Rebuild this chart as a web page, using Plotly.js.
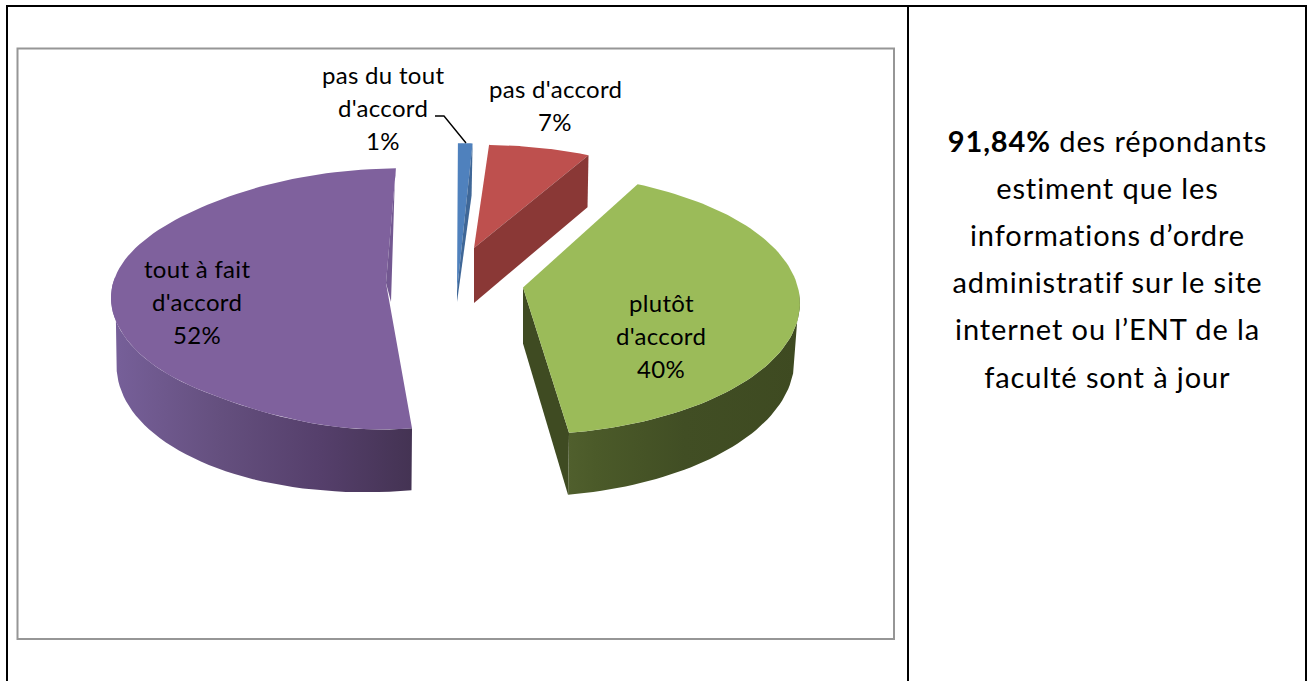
<!DOCTYPE html>
<html><head><meta charset="utf-8"><script src="https://cdn.plot.ly/plotly-3.0.1.min.js"></script>
<style>html,body{margin:0;padding:0;background:#fff;overflow:hidden}#c{width:1311px;height:681px}
.annotation-text{letter-spacing:.3px;font-variant-ligatures:none}</style></head>
<body><div id="c"></div>
<script>
const categories = ["pas du tout d'accord", "pas d'accord", "plutôt d'accord", "tout à fait d'accord"];
const percents = [1, 7, 40, 52];
const faceColors = ["#4F81BD", "#BE504E", "#9BBB59", "#7F619D"];
const edgeColors = ["#3F6797", "#8A3836", "#3F4B22", "#735891"];
const labelLines = [["pas du tout", "d'accord", "1%"], ["pas d'accord", "7%"], ["plutôt", "d'accord", "40%"], ["tout à fait", "d'accord", "52%"]];
const labelPos = [[383, 74], [555, 88], [661, 302], [197, 268]];
const sideLines = ["<b>91,84%</b> des répondants", "estiment que les", "informations d’ordre", "administratif sur le site", "internet ou l’ENT de la", "faculté sont à jour"];

// explosion placement of each slice (projected 3D pie)
const place = [
  {cx: 457, cy: 291, rx: 275, ry: 166, ox: -60, apexDepth: 11, rimEdge: 52, sag: 0},
  {cx: 474, cy: 248, rx: 263, ry: 116, ox: -59, apexDepth: 55, rimEdge: 52, sag: 0},
  {cx: 523, cy: 287.5, rx: 275, ry: 129, ox: -10, apexDepth: 56, rimEdge: 62, sag: 0},
  {cx: 386, cy: 283, rx: 270, ry: 129, ox: -147, apexDepth: 19, rimEdge: 8, sag: 12}
];
const P = 0.124, START = -1.5, STEPS = 90;
const rad = d => d * Math.PI / 180;
const smooth = (a, b, t) => { const u = Math.min(1, Math.max(0, (t - a) / (b - a))); return u * u * (3 - 2 * u); };
function base(s, th) {
  const w = 1 + P * Math.cos(rad(th));
  return [s.cx + (s.rx * Math.sin(rad(th)) + s.ox) / w - s.ox, s.cy - s.ry * Math.cos(rad(th)) / w];
}
function upper(s, th) {
  const t = base(s, th), k = smooth(172, 215, th) * (1 - smooth(240, 320, th));
  return [t[0], t[1] - s.sag * k];
}
function lower(s, th) {
  const t = base(s, th), d = 56 - 6 * Math.cos(rad(th));
  return [s.cx + (t[0] - s.cx) * 0.98, t[1] + d];
}
function poly(pts, color, name, grad) {
  const tr = {type: 'scatter', mode: 'lines', x: pts.map(p => p[0]), y: pts.map(p => p[1]), fill: 'toself',
    fillcolor: color, line: {width: 0, color: color}, hoverinfo: 'skip', showlegend: false, name: name};
  if (grad) { tr.fillgradient = {type: 'horizontal', colorscale: grad}; delete tr.fillcolor; }
  return tr;
}
function sweep(a, b) { const o = []; for (let i = 0; i <= STEPS; i++) o.push(a + (b - a) * i / STEPS); return o; }

const traces = [];
const wallGrad = [
  null, null,
  [[0, '#505F2D'], [0.12, '#4B5A29'], [0.5, '#414E24'], [1, '#3E4A21']],
  [[0, '#77609A'], [0.35, '#65507F'], [0.7, '#553F6B'], [1, '#443353']]
];
let cum = 0;
percents.forEach((v, i) => {
  const a = START + cum * 3.6, b = START + (cum + v) * 3.6; cum += v;
  const s = place[i], name = categories[i], arc = sweep(a, b);
  // outer rim wall: the top arc stops at the silhouette, the bottom arc a little before it
  if (wallGrad[i]) {
    const visTop = arc.filter(t => (i === 2 ? t >= 92 : t <= 270));
    const visLow = arc.filter(t => (i === 2 ? t >= 102 : t <= 258));
    const pts = visTop.map(t => upper(s, t)).concat(visLow.slice().reverse().map(t => lower(s, t)));
    traces.push(poly(pts, edgeColors[i], name, wallGrad[i]));
  }
  const radial = th => {
    const r = upper(s, th), l = [r[0] - 1, r[1] + s.rimEdge];
    return [[s.cx, s.cy], r, l, [s.cx + (i === 3 ? 5 : 0), s.cy + s.apexDepth]];
  };
  if (i === 2) traces.push(poly(radial(b), edgeColors[i], name));
  traces.push(poly([[s.cx, s.cy]].concat(arc.map(t => upper(s, t))), faceColors[i], name));
  if (i !== 2) traces.push(poly(radial(b), edgeColors[i], name));
});
// leader line of the smallest slice
traces.push({type: 'scatter', mode: 'lines', x: [435, 444, 466], y: [116, 116, 143], line: {color: '#000', width: 1.4}, hoverinfo: 'skip', showlegend: false});

const anns = [];
labelLines.forEach((ls, i) => ls.forEach((t, j) => anns.push({xref: 'x', yref: 'y', x: labelPos[i][0], y: labelPos[i][1] + j * 33, text: t, showarrow: false,
  xanchor: 'center', yanchor: 'middle', font: {family: 'Lato', size: 24, color: '#000'}})));
sideLines.forEach((t, j) => anns.push({xref: 'x', yref: 'y', x: 1107, y: 140 + j * 47.2, text: t, showarrow: false,
  xanchor: 'center', yanchor: 'middle', font: {family: 'Lato', size: 29, color: '#000'}}));
const blk = {color: '#000', width: 2}, gry = {color: '#969696', width: 2};
const shapes = [
  {type: 'line', xref: 'x', yref: 'y', x0: 7, x1: 7, y0: 6, y1: 681, line: blk},
  {type: 'line', xref: 'x', yref: 'y', x0: 6, x1: 1307, y0: 6, y1: 6, line: blk},
  {type: 'line', xref: 'x', yref: 'y', x0: 908, x1: 908, y0: 6, y1: 681, line: blk},
  {type: 'line', xref: 'x', yref: 'y', x0: 1306, x1: 1306, y0: 6, y1: 681, line: blk},
  {type: 'rect', xref: 'x', yref: 'y', x0: 17.5, x1: 894, y0: 48.5, y1: 639, line: gry, layer: 'below'}
];
Plotly.newPlot('c', traces, {
  width: 1311, height: 681, margin: {l: 0, r: 0, t: 0, b: 0}, paper_bgcolor: '#fff', plot_bgcolor: '#fff', showlegend: false,
  xaxis: {range: [0, 1311], visible: false, fixedrange: true},
  yaxis: {range: [681, 0], visible: false, fixedrange: true},
  annotations: anns, shapes: shapes
}, {displayModeBar: false, staticPlot: true}).then(() => {
  // the side column is set with wider letter-spacing than the pie labels
  document.querySelectorAll('.annotation-text').forEach(n => {
    if (n.style.fontSize === '29px') n.style.letterSpacing = '0.9px';
  });
});
</script></body></html>
